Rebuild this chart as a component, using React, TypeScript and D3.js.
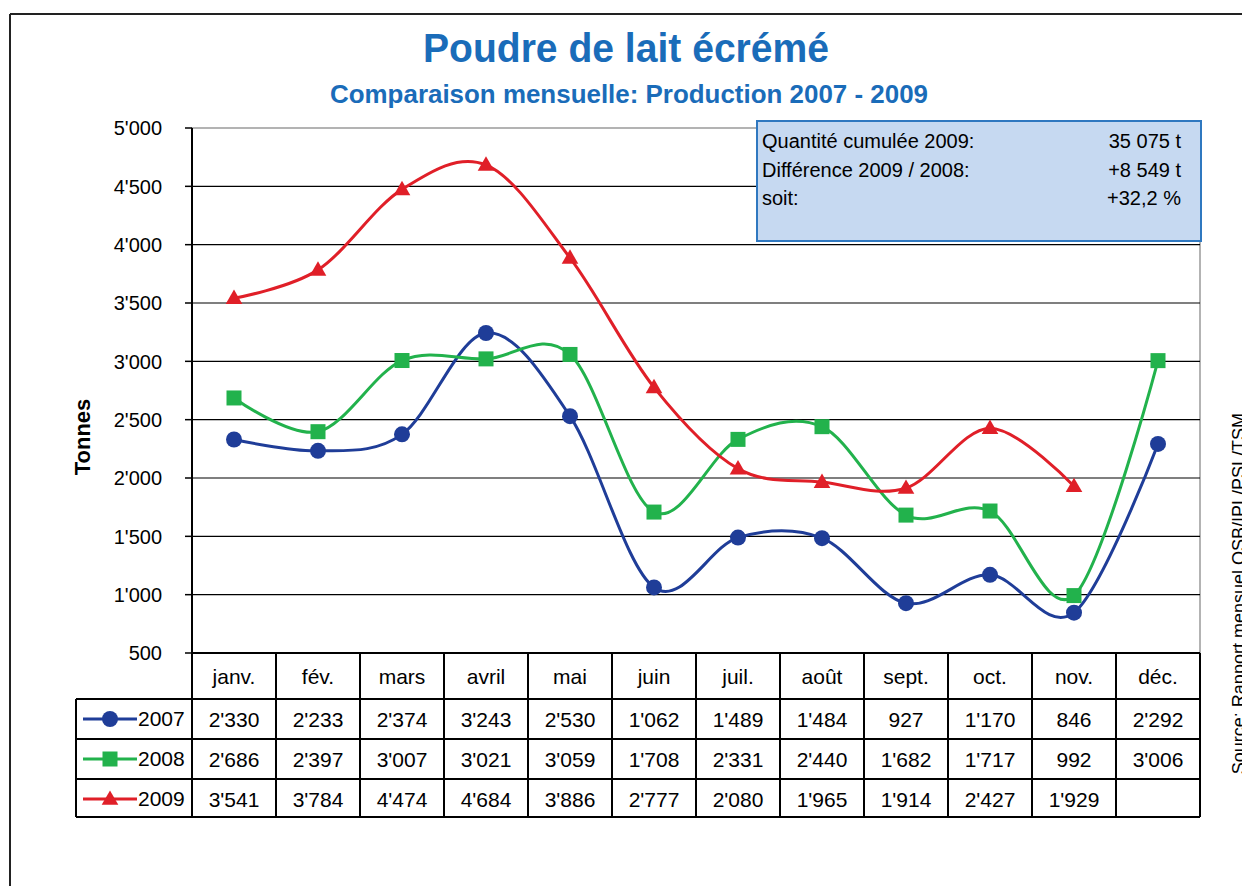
import * as d3 from "d3";

const months = ["janv.", "fév.", "mars", "avril", "mai", "juin", "juil.", "août", "sept.", "oct.", "nov.", "déc."];
const years = ["2007", "2008", "2009"];
const prod2007 = [2330, 2233, 2374, 3243, 2530, 1062, 1489, 1484, 927, 1170, 846, 2292];
const prod2008 = [2686, 2397, 3007, 3021, 3059, 1708, 2331, 2440, 1682, 1717, 992, 3006];
const prod2009 = [3541, 3784, 4474, 4684, 3886, 2777, 2080, 1965, 1914, 2427, 1929];
const yTicks = [500, 1000, 1500, 2000, 2500, 3000, 3500, 4000, 4500, 5000];
const infoLabels = ["Quantité cumulée 2009:", "Différence 2009 / 2008:", "soit:"];
const infoValues = ["35 075 t", "+8 549 t", "+32,2 %"];

const W = 1242;
const H = 886;
const FONT = "'Liberation Sans', Arial, sans-serif";
const BLUE_TITLE = "#1a6cb9";

const fmt = d3.formatLocale({ decimal: ".", thousands: "'", grouping: [3], currency: ["", ""] }).format(",");

const series = [
  { name: years[0], values: prod2007, color: "#1f3d98", shape: "circle" },
  { name: years[1], values: prod2008, color: "#22b24c", shape: "square" },
  { name: years[2], values: prod2009, color: "#e01f28", shape: "triangle" },
];

function Marker({ shape, cx, cy, color }: { shape: string; cx: number; cy: number; color: string }) {
  if (shape === "circle") return <circle cx={cx} cy={cy} r={8} fill={color} />;
  if (shape === "square") return <rect x={cx - 7.5} y={cy - 7.5} width={15} height={15} fill={color} />;
  const tri = d3.symbol(d3.symbolTriangle, 120)();
  return <path d={tri ?? ""} transform={`translate(${cx},${cy + 1})`} fill={color} />;
}

export default function App() {
  const plot = { left: 192, right: 1200, top: 128, bottom: 653 };
  const x = d3.scaleBand().domain(months).range([plot.left, plot.right]).padding(0);
  const cx = (m: string) => (x(m) ?? 0) + x.bandwidth() / 2;
  const y = d3.scaleLinear().domain([500, 5000]).range([plot.bottom, plot.top]);

  const line = d3
    .line<number>()
    .x((_, i) => cx(months[i]))
    .y((d) => y(d))
    .curve(d3.curveCatmullRom.alpha(0));

  // table geometry
  const rowH = 40;
  const headerBottom = 699;
  const tableLeft = 76;
  const rowsY = years.map((_, i) => headerBottom + i * rowH);
  const tableBottom = headerBottom + years.length * rowH - 2;

  const box = { x: 757, y: 121, w: 444, h: 120 };

  return (
    <svg width={W} height={H} style={{ position: "absolute", left: 0, top: 0, background: "#fff" }} fontFamily={FONT}>
      {/* outer frame */}
      <line x1={10} y1={14} x2={W} y2={14} stroke="#222" strokeWidth={2} />
      <line x1={10} y1={14} x2={10} y2={H} stroke="#222" strokeWidth={2} />

      {/* titles */}
      <text x={626} y={62} textAnchor="middle" fontSize={41} fontWeight="bold" fill={BLUE_TITLE} textLength={406} lengthAdjust="spacingAndGlyphs">
        Poudre de lait écrémé
      </text>
      <text x={629} y={103} textAnchor="middle" fontSize={26} fontWeight="bold" fill={BLUE_TITLE} textLength={598} lengthAdjust="spacingAndGlyphs">
        Comparaison mensuelle: Production 2007 - 2009
      </text>

      {/* plot border */}
      <rect x={plot.left} y={plot.top} width={plot.right - plot.left} height={plot.bottom - plot.top} fill="none" stroke="#9a9a9a" strokeWidth={1.5} />

      {/* gridlines */}
      {yTicks.filter((t) => t !== 500 && t !== 5000).map((t) => (
        <line key={t} x1={plot.left} x2={plot.right} y1={y(t)} y2={y(t)} stroke="#000" strokeWidth={1.2} />
      ))}

      {/* y axis */}
      <line x1={plot.left} x2={plot.left} y1={plot.top} y2={plot.bottom} stroke="#000" strokeWidth={2} />
      {yTicks.map((t) => (
        <g key={t}>
          <line x1={plot.left - 7} x2={plot.left} y1={y(t)} y2={y(t)} stroke="#000" strokeWidth={1.5} />
          <text x={162} y={y(t)} dy="0.36em" textAnchor="end" fontSize={20} fill="#000">
            {fmt(t)}
          </text>
        </g>
      ))}
      <text transform={`translate(90,437) rotate(-90)`} textAnchor="middle" fontSize={22} fontWeight="bold" fill="#000">
        Tonnes
      </text>

      {/* series */}
      {series.map((s) => (
        <g key={s.name}>
          <path d={line(s.values) ?? ""} fill="none" stroke={s.color} strokeWidth={3} />
          {s.values.map((v, i) => (
            <Marker key={i} shape={s.shape} cx={cx(months[i])} cy={y(v)} color={s.color} />
          ))}
        </g>
      ))}

      {/* info box */}
      <rect x={box.x} y={box.y} width={box.w} height={box.h} fill="#c6d9f1" stroke="#2f78c0" strokeWidth={2} />
      {infoLabels.map((l, i) => (
        <g key={l}>
          <text x={762} y={148 + i * 28.5} fontSize={20} fill="#000">
            {l}
          </text>
          <text x={1181} y={148 + i * 28.5} textAnchor="end" fontSize={20} fill="#000">
            {infoValues[i]}
          </text>
        </g>
      ))}

      {/* data table */}
      <line x1={plot.left} x2={plot.right} y1={plot.bottom} y2={plot.bottom} stroke="#000" strokeWidth={2} />
      {[...rowsY, tableBottom].map((ry, i) => (
        <line key={i} x1={tableLeft} x2={plot.right} y1={ry} y2={ry} stroke="#000" strokeWidth={2} />
      ))}
      <line x1={tableLeft} x2={tableLeft} y1={headerBottom} y2={tableBottom} stroke="#000" strokeWidth={2} />
      {months.map((m) => (
        <line key={m} x1={x(m) ?? 0} x2={x(m) ?? 0} y1={plot.bottom} y2={tableBottom} stroke="#000" strokeWidth={2} />
      ))}
      <line x1={plot.right} x2={plot.right} y1={plot.bottom} y2={tableBottom} stroke="#000" strokeWidth={2} />
      {months.map((m) => (
        <text key={m} x={cx(m)} y={684} textAnchor="middle" fontSize={21} fill="#000">
          {m}
        </text>
      ))}
      {series.map((s, r) => (
        <g key={s.name}>
          <line x1={83} x2={137} y1={rowsY[r] + 20} y2={rowsY[r] + 20} stroke={s.color} strokeWidth={3} />
          <Marker shape={s.shape} cx={110} cy={rowsY[r] + 20} color={s.color} />
          <text x={138} y={rowsY[r] + 27} fontSize={21} fill="#000">
            {s.name}
          </text>
          {s.values.map((v, i) => (
            <text key={i} x={cx(months[i])} y={rowsY[r] + 28} textAnchor="middle" fontSize={21} fill="#000">
              {fmt(v)}
            </text>
          ))}
        </g>
      ))}

      {/* source */}
      <text transform={`translate(1245,413) rotate(-90)`} textAnchor="end" fontSize={18} fill="#000">
        Source: Rapport mensuel OSB/IPL/PSL/TSM
      </text>
    </svg>
  );
}
